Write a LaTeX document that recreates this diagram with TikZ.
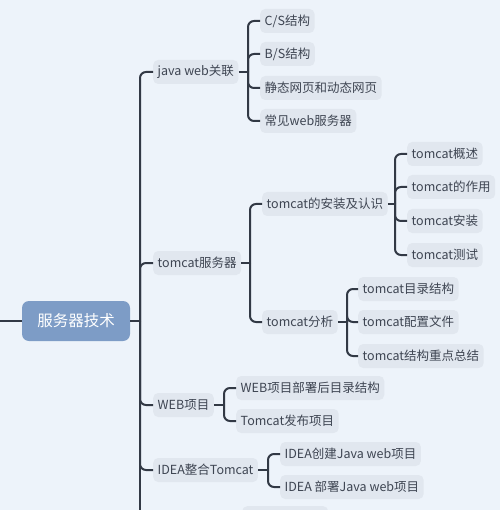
\documentclass[tikz,border=0pt]{standalone}
\usepackage{fontspec}
\newfontfamily\cjk{Noto Sans CJK SC}
\definecolor{fundoazul}{HTML}{EDF3FA}
\definecolor{nodecinza}{HTML}{E1E7EF}
\definecolor{raizazul}{HTML}{7D9CC6}
\definecolor{linhacinza}{HTML}{323945}
\definecolor{textocinza}{HTML}{3E4552}
\tikzset{
  topico/.style={fill=nodecinza, rounded corners=5pt, text=textocinza, font=\cjk\fontsize{12.5}{15}\selectfont, inner xsep=4.5pt, inner ysep=0pt, minimum height=24pt, anchor=west},
  raiz/.style={fill=raizazul, rounded corners=7pt, text=white, font=\cjk\fontsize{15.5}{18}\selectfont, minimum width=108pt, minimum height=40pt},
  liga/.style={draw=linhacinza, line width=2pt, rounded corners=6pt}
}
\begin{document}
\begin{tikzpicture}[x=1pt,y=-1pt]
\fill [fundoazul] (0,0) rectangle (500,510);
\useasboundingbox (0,0) rectangle (500,510);
\node[raiz] (tec) at (76,321) {服务器技术};
\node[topico] (jw) at (153,72) {java web关联};
\node[topico] (ts) at (153,263) {tomcat服务器};
\node[topico] (wp) at (153,405) {WEB项目};
\node[topico] (it) at (153,470) {IDEA整合Tomcat};
\node[topico, anchor=north west, minimum width=86pt, minimum height=20pt] (oculto) at (242,506) {};
\node[topico] (cs) at (260,21) {C/S结构};
\node[topico] (bs) at (260,54) {B/S结构};
\node[topico] (jt) at (260,88) {静态网页和动态网页};
\node[topico] (cj) at (260,121) {常见web服务器};
\node[topico] (az) at (262,204) {tomcat的安装及认识};
\node[topico] (fx) at (262,322) {tomcat分析};
\node[topico] (gs) at (407,154) {tomcat概述};
\node[topico] (zy) at (407,187) {tomcat的作用};
\node[topico] (an) at (407,221) {tomcat安装};
\node[topico] (cs2) at (407,255) {tomcat测试};
\node[topico] (ml) at (358,289) {tomcat目录结构};
\node[topico] (pz) at (358,322) {tomcat配置文件};
\node[topico] (zd) at (358,356) {tomcat结构重点总结};
\node[topico] (bm) at (236,388) {WEB项目部署后目录结构};
\node[topico] (fb) at (236,421) {Tomcat发布项目};
\node[topico] (cj2) at (280,454) {IDEA创建Java web项目};
\node[topico] (bs2) at (280,487) {IDEA 部署Java web项目};
\coordinate (borda) at (0,321);
\coordinate (tronco) at (140,321);
\coordinate (fim) at (140,530);
\coordinate (bjw) at (248,72);
\coordinate (bts) at (250,263);
\coordinate (baz) at (395,204);
\coordinate (bfx) at (347,322);
\coordinate (bwp) at (224,405);
\coordinate (bit) at (268,470);
\draw[liga] (borda) -- (tec.west);
\draw[liga] (tec.east) -- (tronco);
\draw[liga] (tronco) -- (fim);
\draw[liga] (tronco) |- (jw.west);
\draw[liga] (tronco) |- (ts.west);
\draw[liga] (tronco) |- (wp.west);
\draw[liga] (tronco) |- (it.west);
\draw[liga] (jw.east) -- (bjw);
\draw[liga] (bjw) |- (cs.west);
\draw[liga] (bjw) |- (bs.west);
\draw[liga] (bjw) |- (jt.west);
\draw[liga] (bjw) |- (cj.west);
\draw[liga] (ts.east) -- (bts);
\draw[liga] (bts) |- (az.west);
\draw[liga] (bts) |- (fx.west);
\draw[liga] (az.east) -- (baz);
\draw[liga] (baz) |- (gs.west);
\draw[liga] (baz) |- (zy.west);
\draw[liga] (baz) |- (an.west);
\draw[liga] (baz) |- (cs2.west);
\draw[liga] (fx.east) -- (bfx);
\draw[liga] (bfx) |- (ml.west);
\draw[liga] (bfx) |- (pz.west);
\draw[liga] (bfx) |- (zd.west);
\draw[liga] (wp.east) -- (bwp);
\draw[liga] (bwp) |- (bm.west);
\draw[liga] (bwp) |- (fb.west);
\draw[liga] (it.east) -- (bit);
\draw[liga] (bit) |- (cj2.west);
\draw[liga] (bit) |- (bs2.west);
\end{tikzpicture}
\end{document}
